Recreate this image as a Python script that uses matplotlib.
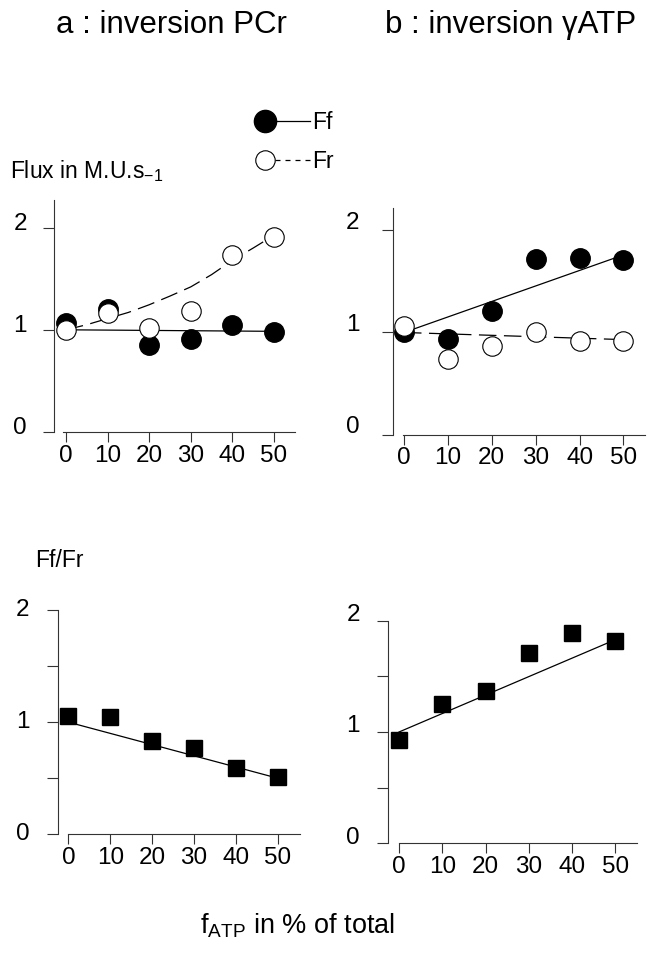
import numpy as np
import matplotlib
matplotlib.use("Agg")
import matplotlib.pyplot as plt
from matplotlib.lines import Line2D
from matplotlib.legend_handler import HandlerLine2D
from matplotlib.transforms import ScaledTranslation

plt.rcParams['font.family'] = ['Liberation Sans', 'DejaVu Sans']
plt.rcParams['mathtext.fontset'] = 'custom'
plt.rcParams['mathtext.rm'] = 'Liberation Sans'
plt.rcParams['mathtext.it'] = 'Liberation Sans:italic'

# f_ATP (% of total)
f_atp = [0, 10, 20, 30, 40, 50]

# a : inversion PCr
pcr_ff = [1.07, 1.20, 0.85, 0.91, 1.05, 0.98]
pcr_fr = [1.00, 1.16, 1.02, 1.18, 1.73, 1.91]
pcr_ff_fit_x = [0, 50]
pcr_ff_fit = [1.00, 0.985]
pcr_fr_fit_x = [0, 5, 10, 15, 20, 25, 30, 35, 40, 45, 49]
pcr_fr_fit = [1.00, 1.05, 1.11, 1.17, 1.245, 1.33, 1.42, 1.54, 1.68, 1.80, 1.90]
pcr_ratio = [1.056, 1.045, 0.83, 0.77, 0.595, 0.51]
pcr_ratio_fit_x = [0, 50]
pcr_ratio_fit = [1.00, 0.50]

# b : inversion gammaATP
atp_ff = [1.00, 0.94, 1.21, 1.72, 1.73, 1.71]
atp_fr = [1.06, 0.74, 0.87, 1.00, 0.92, 0.92]
atp_ff_fit_x = [0, 50]
atp_ff_fit = [1.00, 1.76]
atp_fr_fit_x = [0, 50]
atp_fr_fit = [1.00, 0.93]
atp_ratio = [0.925, 1.25, 1.37, 1.71, 1.89, 1.82]
atp_ratio_fit_x = [0, 50]
atp_ratio_fit = [1.00, 1.83]

W, H = 651, 957
fig = plt.figure(figsize=(W / 100, H / 100), dpi=100)

LW = 0.9
DASH = (0, (14, 6))
SPINE = '#333333'


class LeftMarkerHandler(HandlerLine2D):
    # put the single legend marker at the left end of the line
    def create_artists(self, *args, **kwargs):
        arts = super().create_artists(*args, **kwargs)
        for a in arts:
            a.set_markevery([0])
        return arts


def px_axes(left, top, right, bottom):
    return fig.add_axes([left / W, 1 - bottom / H, (right - left) / W, (bottom - top) / H])


def style_axes(ax, xlim, ytop, yticks, ylabels, ypad, yshift, xstart):
    ax.set_xlim(*xlim)
    ax.set_ylim(0, ytop)
    ax.patch.set_visible(False)
    for s in ['top', 'right']:
        ax.spines[s].set_visible(False)
    for s in ['left', 'bottom']:
        ax.spines[s].set_linewidth(0.8)
        ax.spines[s].set_color(SPINE)
    ax.spines['bottom'].set_bounds(xstart, xlim[1])
    ax.set_xticks(f_atp)
    ax.set_yticks(yticks)
    ax.set_yticklabels(ylabels)
    ax.tick_params(axis='x', direction='out', length=7.5, width=0.8, color=SPINE,
                   labelsize=17.5, pad=1.5)
    ax.tick_params(axis='y', direction='out', length=8, width=0.8, color=SPINE,
                   labelsize=17.5, pad=ypad)
    off = ScaledTranslation(0, yshift / 100, fig.dpi_scale_trans)
    for lab in ax.get_yticklabels():
        lab.set_transform(lab.get_transform() + off)


def flux_points(ax, ff, fr):
    ax.plot(f_atp, ff, 'o', ms=14, mfc='black', mec='black', zorder=3, clip_on=False)
    ax.plot(f_atp, fr, 'o', ms=14, mfc='white', mec='black', mew=0.8, zorder=4, clip_on=False)


# top left: flux, PCr inversion
ax1 = px_axes(54, 200, 295, 432)
ax1.plot(pcr_ff_fit_x, pcr_ff_fit, color='black', lw=LW, zorder=2)
ax1.plot(pcr_fr_fit_x, pcr_fr_fit, color='black', lw=LW, ls=DASH, zorder=2)
flux_points(ax1, pcr_ff, pcr_fr)
style_axes(ax1, (-2.88, 55.05), 2.27, [0, 1, 2], ['0', '1', '2'], 11.5, 6, -0.7)

# top right: flux, gammaATP inversion
ax2 = px_axes(392.7, 208, 645, 434.5)
ax2.plot(atp_ff_fit_x, atp_ff_fit, color='black', lw=LW, zorder=2)
ax2.plot(atp_fr_fit_x, atp_fr_fit, color='black', lw=LW, ls=DASH, zorder=2)
flux_points(ax2, atp_ff, atp_fr)
style_axes(ax2, (-2.57, 54.9), 2.22, [0, 1, 2], ['0', '1', '2'], 16, 10, -0.3)

# bottom left: Ff/Fr, PCr inversion
ax3 = px_axes(58.3, 610, 300, 834.3)
ax3.plot(pcr_ratio_fit_x, pcr_ratio_fit, color='black', lw=LW, zorder=2)
ax3.plot(f_atp, pcr_ratio, 's', ms=12, color='black', zorder=3, clip_on=False)
style_axes(ax3, (-2.39, 55.3), 2.0, [0, 0.5, 1, 1.5, 2], ['0', '', '1', '', '2'], 13, 2.5, 0)

# bottom right: Ff/Fr, gammaATP inversion
ax4 = px_axes(388.3, 620.7, 636.7, 843.3)
ax4.plot(atp_ratio_fit_x, atp_ratio_fit, color='black', lw=LW, zorder=2)
ax4.plot(f_atp, atp_ratio, 's', ms=12, color='black', zorder=3, clip_on=False)
style_axes(ax4, (-2.47, 54.9), 2.0, [0, 0.5, 1, 1.5, 2], ['0', '', '1', '', '2'], 12.5, 8, 0)

# legend
h_ff = Line2D([], [], color='black', lw=LW, marker='o', ms=16, mfc='black', mec='black')
h_fr = Line2D([], [], color='black', lw=LW, ls=(0, (4, 4)), marker='o', ms=14,
              mfc='white', mec='black', mew=0.8)
fig.legend([h_ff, h_fr], ['Ff', 'Fr'], loc='upper left',
           bbox_to_anchor=(265 / W, 1 - 111 / H), frameon=False, fontsize=16.5,
           handlelength=1.95, handletextpad=0.1, borderpad=0, borderaxespad=0,
           labelspacing=0.7, numpoints=1,
           handler_map={h_ff: LeftMarkerHandler(), h_fr: LeftMarkerHandler()})

# texts
fig.text(56 / W, 1 - 33 / H, 'a : inversion PCr', fontsize=22.5, va='baseline')
fig.text(385 / W, 1 - 33 / H, 'b : inversion \u03b3ATP', fontsize=22.5, va='baseline')
fig.text(10 / W, 1 - 178 / H, r'Flux in M.U.s$_{\mathregular{-1}}$', fontsize=16.5, va='baseline')
fig.text(35 / W, 1 - 567 / H, 'Ff/Fr', fontsize=16.5, va='baseline')
fig.text(200 / W, 1 - 933 / H, r'f$_{\mathregular{ATP}}$ in % of total', fontsize=19.5, va='baseline')

fig.savefig('out.png', dpi=100)
